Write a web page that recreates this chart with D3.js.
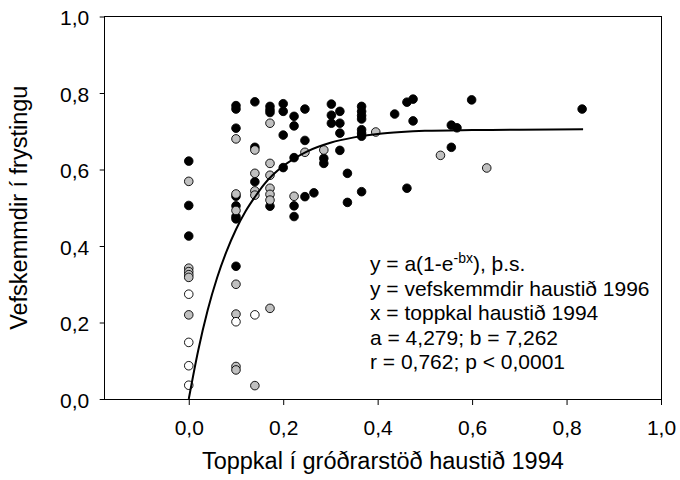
<!DOCTYPE html>
<html>
<head>
<meta charset="utf-8">
<script src="https://cdn.jsdelivr.net/npm/d3@7"></script>
<style>
  body { margin: 0; background: #fff; }
  text { font-family: Arial, "Liberation Sans", sans-serif; fill: #000; }
</style>
</head>
<body>
<div id="chart"></div>
<script>
// Tick values for both axes
const xTicks = [0, 0.2, 0.4, 0.6, 0.8, 1.0];
const yTicks = [0, 0.2, 0.4, 0.6, 0.8, 1.0];

// Scatter points [toppkal 1994, vefskemmdir 1996], one array per marker colour
const blackPoints = [
  [0, 0.622], [0, 0.506], [0, 0.426],
  [0.1, 0.767], [0.1, 0.758], [0.1, 0.708], [0.1, 0.530], [0.1, 0.505], [0.1, 0.477], [0.1, 0.471], [0.1, 0.347],
  [0.14, 0.777], [0.14, 0.658], [0.14, 0.568],
  [0.172, 0.765], [0.172, 0.756], [0.172, 0.749], [0.172, 0.504],
  [0.2, 0.772], [0.2, 0.752], [0.2, 0.690], [0.2, 0.605],
  [0.223, 0.739], [0.223, 0.714], [0.223, 0.631], [0.223, 0.505], [0.223, 0.477],
  [0.246, 0.758], [0.246, 0.676], [0.246, 0.529],
  [0.265, 0.539],
  [0.286, 0.629], [0.286, 0.616],
  [0.302, 0.771], [0.302, 0.742], [0.302, 0.721],
  [0.32, 0.752], [0.32, 0.721], [0.32, 0.695], [0.32, 0.650],
  [0.336, 0.590], [0.336, 0.514],
  [0.366, 0.765], [0.366, 0.752], [0.366, 0.741], [0.366, 0.732], [0.366, 0.704], [0.366, 0.695], [0.366, 0.687], [0.366, 0.542],
  [0.436, 0.745],
  [0.462, 0.776], [0.462, 0.551],
  [0.475, 0.784], [0.475, 0.727],
  [0.556, 0.716], [0.556, 0.658], [0.568, 0.709],
  [0.599, 0.782],
  [0.833, 0.758]
];
const grayPoints = [
  [0, 0.569], [0, 0.342], [0, 0.333], [0, 0.325], [0, 0.318], [0, 0.220],
  [0.1, 0.680], [0.1, 0.536], [0.1, 0.493], [0.1, 0.300], [0.1, 0.222], [0.1, 0.085], [0.1, 0.076],
  [0.14, 0.651], [0.14, 0.590], [0.14, 0.544], [0.14, 0.533], [0.14, 0.035],
  [0.172, 0.721], [0.172, 0.616], [0.172, 0.585], [0.172, 0.551], [0.172, 0.535], [0.172, 0.520], [0.172, 0.237],
  [0.223, 0.530],
  [0.246, 0.645],
  [0.286, 0.651],
  [0.396, 0.698],
  [0.533, 0.637],
  [0.631, 0.604]
];
const whitePoints = [
  [0, 0.274], [0, 0.148], [0, 0.087], [0, 0.036],
  [0.1, 0.202],
  [0.14, 0.220]
];

// Fitted curve
const curveX = [0, 0.02, 0.04, 0.06, 0.08, 0.10, 0.12, 0.14, 0.16, 0.18, 0.20, 0.25, 0.30, 0.35, 0.40, 0.45, 0.50, 0.60, 0.70, 0.835];
const curveY = [0, 0.127, 0.232, 0.317, 0.386, 0.443, 0.490, 0.528, 0.562, 0.588, 0.609, 0.647, 0.670, 0.684, 0.693, 0.698, 0.701, 0.703, 0.704, 0.705];

// Text box inside the plot
const noteLines = [
  "y = vefskemmdir haustið 1996",
  "x = toppkal haustið 1994",
  "a = 4,279; b = 7,262",
  "r = 0,762; p < 0,0001"
];

const width = 680, height = 480;
const plot = { left: 104.7, right: 661, top: 16.5, bottom: 399 };

// Icelandic number format, comma as decimal sign
const locale = d3.formatLocale({ decimal: ",", thousands: ".", grouping: [3], currency: ["", " kr."] });
const fmt = locale.format(".1f");

const x = d3.scaleLinear().domain([-0.178, 1.0]).range([plot.left, plot.right]);
const y = d3.scaleLinear().domain([0, 1]).range([plot.bottom, plot.top]);

const svg = d3.select("#chart")
  .append("svg")
  .attr("width", width)
  .attr("height", height);

// X axis
const xAxis = svg.append("g")
  .attr("transform", `translate(0,${plot.bottom})`)
  .call(d3.axisBottom(x).tickValues(xTicks).tickSize(6).tickFormat(fmt));
xAxis.select(".domain").remove();
xAxis.selectAll("line").attr("stroke", "#000");
xAxis.selectAll("text")
  .attr("y", 36)
  .attr("dy", 0)
  .style("font-size", "21px")
  .style("font-family", "Arial, 'Liberation Sans', sans-serif");

// Y axis
const yAxis = svg.append("g")
  .attr("transform", `translate(${plot.left},0)`)
  .call(d3.axisLeft(y).tickValues(yTicks).tickSize(5).tickFormat(fmt));
yAxis.select(".domain").remove();
yAxis.selectAll("line").attr("stroke", "#000");
yAxis.selectAll("text")
  .attr("x", -15.5)
  .attr("dy", "0.4em")
  .style("font-size", "21px")
  .style("font-family", "Arial, 'Liberation Sans', sans-serif");

// Frame round the plot
svg.append("rect")
  .attr("x", plot.left)
  .attr("y", plot.top)
  .attr("width", plot.right - plot.left)
  .attr("height", plot.bottom - plot.top)
  .attr("fill", "none")
  .attr("stroke", "#000")
  .attr("stroke-width", 1)
  .attr("shape-rendering", "crispEdges");

// Markers
function drawPoints(data, fill) {
  svg.append("g")
    .selectAll("circle")
    .data(data)
    .join("circle")
    .attr("cx", d => x(d[0]))
    .attr("cy", d => y(d[1]))
    .attr("r", 4.3)
    .attr("fill", fill)
    .attr("stroke", "#000")
    .attr("stroke-width", 0.9);
}
drawPoints(blackPoints, "#000");
drawPoints(grayPoints, "#c0c0c0");
drawPoints(whitePoints, "#fff");

// Fitted curve on top of the markers
const line = d3.line()
  .x(i => x(curveX[i]))
  .y(i => y(curveY[i]))
  .curve(d3.curveMonotoneX);
svg.append("path")
  .attr("d", line(d3.range(curveX.length)))
  .attr("fill", "none")
  .attr("stroke", "#000")
  .attr("stroke-width", 2);

// Annotation: formula with superscript, then the other lines
const noteX = 370, noteY = 271, noteStep = 24.5;
const first = svg.append("text")
  .attr("x", noteX)
  .attr("y", noteY)
  .style("font-size", "21px");
first.append("tspan").text("y = a(1-e");
first.append("tspan").attr("dy", -8).style("font-size", "14px").text("-bx");
first.append("tspan").attr("dy", 8).text("), þ.s.");

svg.append("g")
  .selectAll("text")
  .data(noteLines)
  .join("text")
  .attr("x", noteX)
  .attr("y", (d, i) => noteY + noteStep * (i + 1))
  .style("font-size", "21px")
  .text(d => d);

// Axis titles
svg.append("text")
  .attr("x", (plot.left + plot.right) / 2)
  .attr("y", 469)
  .attr("text-anchor", "middle")
  .style("font-size", "23.5px")
  .text("Toppkal í gróðrarstöð haustið 1994");

svg.append("text")
  .attr("transform", `translate(27,${(plot.top + plot.bottom) / 2}) rotate(-90)`)
  .attr("text-anchor", "middle")
  .style("font-size", "23.5px")
  .text("Vefskemmdir í frystingu");
</script>
</body>
</html>
